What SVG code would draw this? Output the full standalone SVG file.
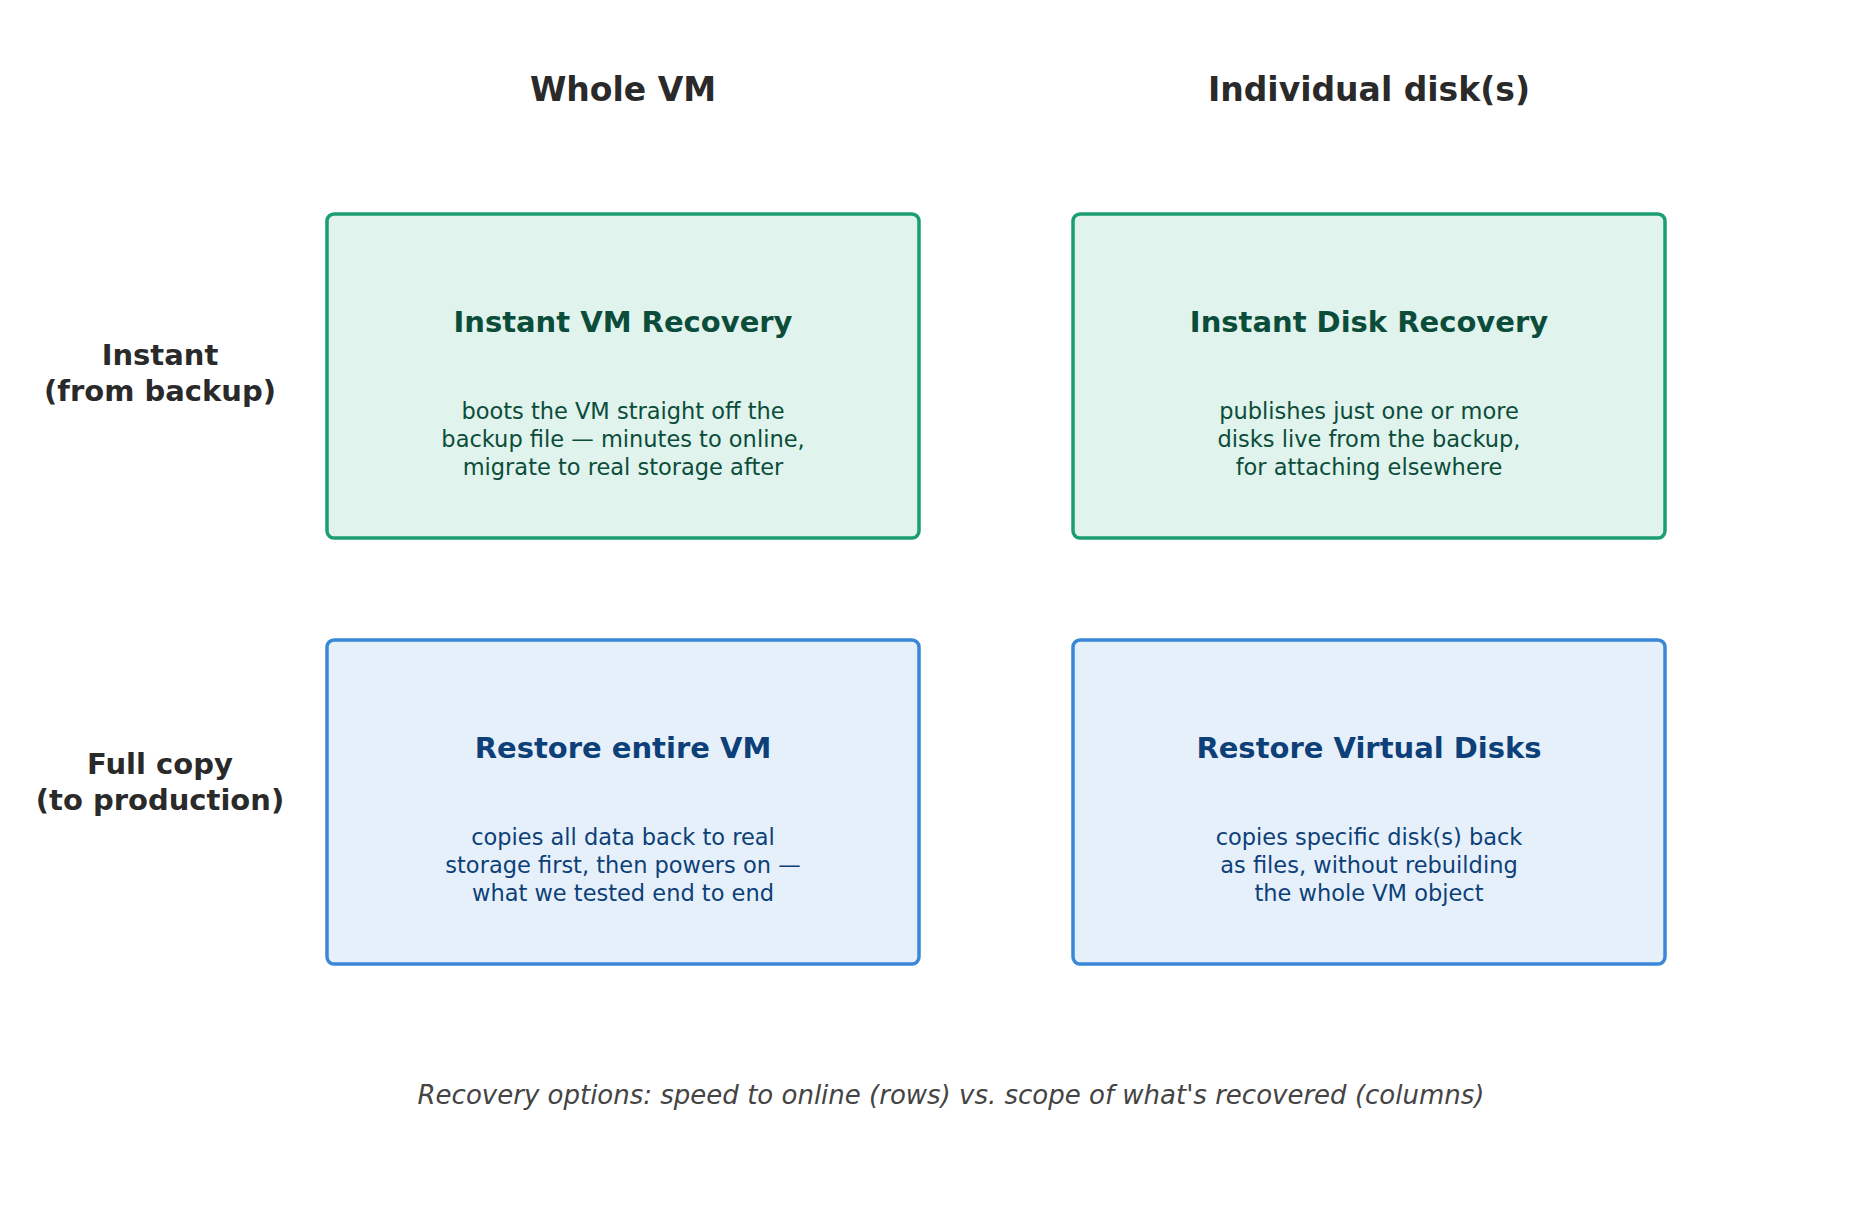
<svg xmlns="http://www.w3.org/2000/svg" width="1853" height="1209" viewBox="0 0 1853 1209">
<style>
text{font-family:"DejaVu Sans",sans-serif;text-anchor:middle;dominant-baseline:middle}
.h{font-size:33px;font-weight:bold;fill:#2a2a2a}
.r{font-size:29px;font-weight:bold;fill:#2a2a2a}
.t{font-size:29px;font-weight:bold}
.b{font-size:22.5px}
.g rect{fill:#e0f3ec;stroke:#1b9e72;stroke-width:3.5}
.g text{fill:#0b4d3a}
.u rect{fill:#e6f0fa;stroke:#3a87d8;stroke-width:3.5}
.u text{fill:#0d3f78}
.c{font-size:26px;font-style:italic;fill:#444}
</style>
<rect width="1853" height="1209" fill="#fff"/>
<text class="h" x="623" y="91">Whole VM</text>
<text class="h" x="1369" y="91">Individual disk(s)</text>
<text class="r" x="160" y="357">Instant</text>
<text class="r" x="160" y="393">(from backup)</text>
<text class="r" x="160" y="766">Full copy</text>
<text class="r" x="160" y="802">(to production)</text>
<g id="connectors"/>
<g id="n1" class="g"><rect x="327" y="214" width="592" height="324" rx="7"/>
<text class="t" x="623" y="324">Instant VM Recovery</text>
<text class="b" x="623" y="412">boots the VM straight off the</text>
<text class="b" x="623" y="440">backup file — minutes to online,</text>
<text class="b" x="623" y="468">migrate to real storage after</text></g>
<g id="n2" class="g"><rect x="1073" y="214" width="592" height="324" rx="7"/>
<text class="t" x="1369" y="324">Instant Disk Recovery</text>
<text class="b" x="1369" y="412">publishes just one or more</text>
<text class="b" x="1369" y="440">disks live from the backup,</text>
<text class="b" x="1369" y="468">for attaching elsewhere</text></g>
<g id="n3" class="u"><rect x="327" y="640" width="592" height="324" rx="7"/>
<text class="t" x="623" y="750">Restore entire VM</text>
<text class="b" x="623" y="838">copies all data back to real</text>
<text class="b" x="623" y="866">storage first, then powers on —</text>
<text class="b" x="623" y="894">what we tested end to end</text></g>
<g id="n4" class="u"><rect x="1073" y="640" width="592" height="324" rx="7"/>
<text class="t" x="1369" y="750">Restore Virtual Disks</text>
<text class="b" x="1369" y="838">copies specific disk(s) back</text>
<text class="b" x="1369" y="866">as files, without rebuilding</text>
<text class="b" x="1369" y="894">the whole VM object</text></g>
<text class="c" x="951" y="1096">Recovery options: speed to online (rows) vs. scope of what's recovered (columns)</text>
</svg>
